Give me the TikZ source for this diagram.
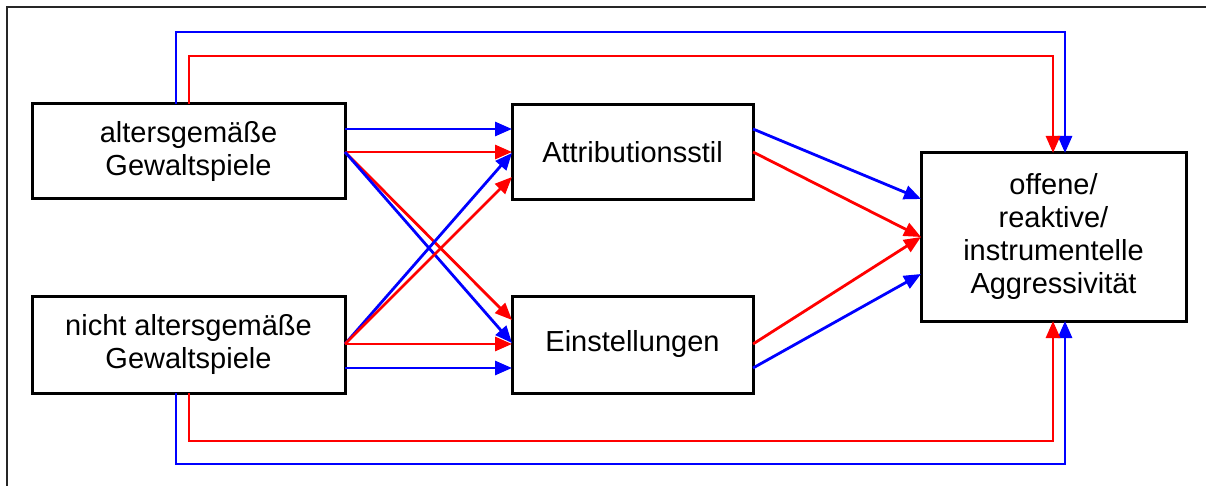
\documentclass[tikz,border=0pt]{standalone}
\usepackage{fontspec}
\setmainfont{Liberation Sans}
\usetikzlibrary{arrows.meta}
\begin{document}
\begin{tikzpicture}[x=1pt,y=-1pt,
  box/.style={draw=black,line width=3pt,inner sep=0pt,outer sep=0pt,align=center,
    font=\fontsize{29}{33}\selectfont},
  conn/.style={line width=2.8pt,-{Triangle[length=17pt,width=14pt]}},
  bl/.style={conn,draw={rgb,255:red,0;green,0;blue,255},fill={rgb,255:red,0;green,0;blue,255}},
  rd/.style={conn,draw={rgb,255:red,255;green,0;blue,0},fill={rgb,255:red,255;green,0;blue,0}}]
\useasboundingbox (0,0) rectangle (1206,486);
\draw[line width=1.6pt,black!85] (7,486) -- (7,7) -- (1206,7);
\node[box,minimum width=313pt,minimum height=95pt] (A) at (188.5,151.5) {altersgemäße\\Gewaltspiele};
\node[box,minimum width=313pt,minimum height=97pt] (B) at (188.5,344.5) {nicht altersgemäße\\Gewaltspiele};
\node[box,minimum width=241pt,minimum height=95pt] (C) at (632.5,152.5) {Attributionsstil};
\node[box,minimum width=241pt,minimum height=97pt] (D) at (632.5,344.5) {Einstellungen};
\node[box,minimum width=265pt,minimum height=168pt] (E) at (1053.5,237) {offene/\\reaktive/\\instrumentelle\\Aggressivität};
% left to middle
\draw[bl] (A.east |- 0,129) -- (C.west |- 0,129);
\draw[rd] (A.east |- 0,152) -- (C.west |- 0,152);
\draw[rd] (A.east |- 0,152) -- (D.west |- 0,320);
\draw[bl] (A.east |- 0,152) -- (D.west |- 0,343);
\draw[bl] (B.east |- 0,344) -- (C.west |- 0,153);
\draw[rd] (B.east |- 0,344) -- (C.west |- 0,177);
\draw[rd] (B.east |- 0,344) -- (D.west |- 0,344);
\draw[bl] (B.east |- 0,368) -- (D.west |- 0,368);
% middle to right
\draw[bl] (C.east |- 0,129) -- (E.west |- 0,199);
\draw[rd] (C.east |- 0,152) -- (E.west |- 0,237);
\draw[rd] (D.east |- 0,344) -- (E.west |- 0,237);
\draw[bl] (D.east |- 0,368) -- (E.west |- 0,274);
% outer routes
\draw[bl,fill=none] (A.north -| 176,0) |- (1065,32) -- (E.north -| 1065,0);
\draw[rd,fill=none] (A.north -| 189,0) |- (1053,56) -- (E.north -| 1053,0);
\draw[bl,fill=none] (B.south -| 176,0) |- (1065,464) -- (E.south -| 1065,0);
\draw[rd,fill=none] (B.south -| 189,0) |- (1053,441) -- (E.south -| 1053,0);
\end{tikzpicture}
\end{document}
